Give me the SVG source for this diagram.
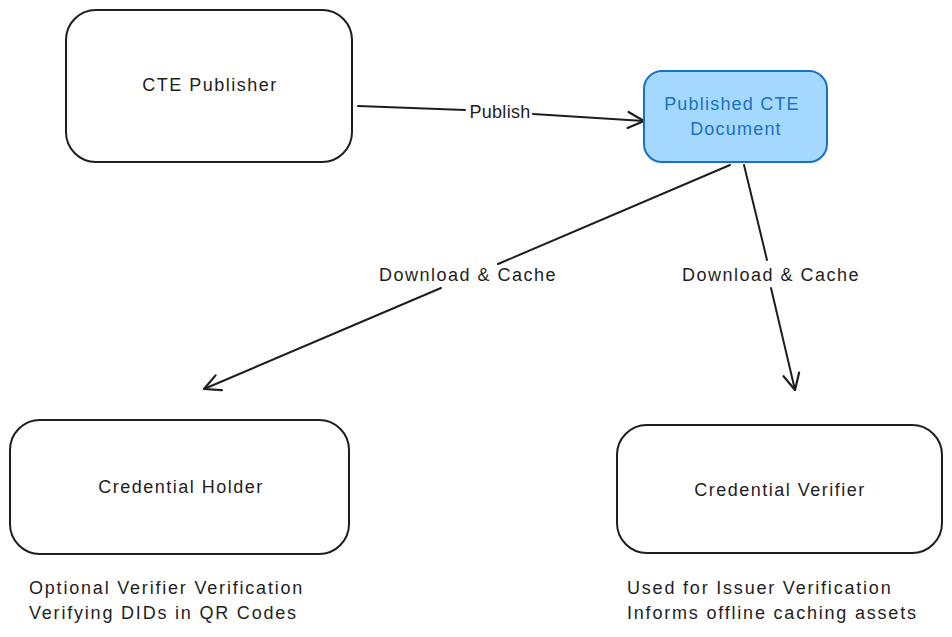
<svg xmlns="http://www.w3.org/2000/svg" width="952" height="637" viewBox="0 0 952 637">
<defs>
<marker id="arr" viewBox="0 0 20 20" refX="18" refY="10" markerWidth="20" markerHeight="20" markerUnits="userSpaceOnUse" orient="auto">
<path d="M2,2 L18,10 L2,18" fill="none" stroke="#1e1e1e" stroke-width="2.2" stroke-linecap="round" stroke-linejoin="round"/>
</marker>
</defs>
<style>
.box{fill:#ffffff;stroke:#1e1e1e;stroke-width:2}
.blue{fill:#a5d8ff;stroke:#1971c2;stroke-width:2}
.t{font-family:"Liberation Sans",Arial,sans-serif;font-size:18px;fill:#1e1e1e;text-anchor:middle;letter-spacing:1.5px}
.tb{font-family:"Liberation Sans",Arial,sans-serif;font-size:18px;fill:#1971c2;text-anchor:middle;letter-spacing:1.2px}
.n{font-family:"Liberation Sans",Arial,sans-serif;font-size:18px;fill:#1e1e1e;letter-spacing:1.8px}
.c{fill:none;stroke:#1e1e1e;stroke-width:2;stroke-linecap:round}
</style>
<rect width="952" height="637" fill="#ffffff"/>
<g id="connectors">
<line class="c" x1="358" y1="106" x2="465" y2="110" stroke-width="3"/>
<line class="c" x1="533" y1="114" x2="644" y2="121" stroke-width="3" marker-end="url(#arr)"/>
<text class="t" x="500" y="118" style="letter-spacing:0.3px">Publish</text>
<line class="c" x1="730" y1="165" x2="498" y2="264"/>
<line class="c" x1="441" y1="288" x2="204" y2="389" marker-end="url(#arr)"/>
<text class="t" x="468" y="281">Download &amp; Cache</text>
<line class="c" x1="744" y1="165" x2="767" y2="260"/>
<line class="c" x1="771" y1="288" x2="795" y2="390" marker-end="url(#arr)"/>
<text class="t" x="771" y="281">Download &amp; Cache</text>
</g>
<g id="cte-publisher">
<rect class="box" x="66" y="10" width="286" height="152" rx="30"/>
<text class="t" x="210" y="91">CTE Publisher</text>
</g>
<g id="published-cte-document">
<rect class="blue" x="644" y="71" width="183" height="91" rx="18"/>
<text class="tb" x="732" y="110">Published CTE</text>
<text class="tb" x="736" y="135">Document</text>
</g>
<g id="credential-holder">
<rect class="box" x="10" y="420" width="339" height="134" rx="30"/>
<text class="t" x="181" y="493">Credential Holder</text>
</g>
<g id="credential-verifier">
<rect class="box" x="617" y="425" width="325" height="128" rx="30"/>
<text class="t" x="780" y="496">Credential Verifier</text>
</g>
<g id="holder-notes">
<text class="n" x="29" y="594">Optional Verifier Verification</text>
<text class="n" x="29" y="619">Verifying DIDs in QR Codes</text>
</g>
<g id="verifier-notes">
<text class="n" x="627" y="594">Used for Issuer Verification</text>
<text class="n" x="627" y="619">Informs offline caching assets</text>
</g>
</svg>
